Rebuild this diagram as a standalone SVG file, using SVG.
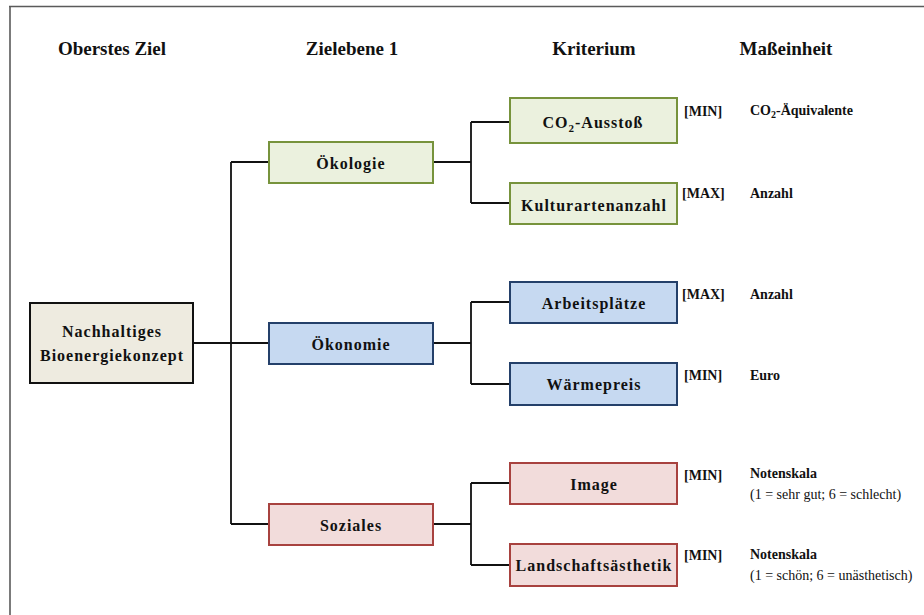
<svg xmlns="http://www.w3.org/2000/svg" width="924" height="615" viewBox="0 0 924 615">
<style>
text{font-family:"Liberation Serif","Times New Roman",serif;fill:#111;}
.h{font-size:19px;font-weight:bold;text-anchor:middle;}
.b{font-size:16px;font-weight:bold;text-anchor:middle;letter-spacing:1px;}
.l{font-size:14px;font-weight:bold;}
.s{font-size:14px;}
.root{fill:#EEEBE0;stroke:#111;stroke-width:2;}
.g{fill:#EBF1DE;stroke:#77933C;stroke-width:2;}
.bl{fill:#C6D9F1;stroke:#24406A;stroke-width:2;}
.r{fill:#F2DCDB;stroke:#A8423F;stroke-width:2;}
.c{fill:none;stroke:#111;stroke-width:1.8;}
</style>
<rect width="924" height="615" fill="#fff"/>
<path d="M9 6.5H924M10 6V615" fill="none" stroke="#5a5a5a" stroke-width="1.6"/>
<g id="headers">
<text class="h" x="112" y="55">Oberstes Ziel</text>
<text class="h" x="352" y="55">Zielebene 1</text>
<text class="h" x="594" y="55">Kriterium</text>
<text class="h" x="786" y="55">Maßeinheit</text>
</g>
<g id="connectors">
<path class="c" d="M193 343H269M231 162V524M231 162H269M231 524H269"/>
<path class="c" d="M433 162H471M471 122V203M471 122H510M471 203H510"/>
<path class="c" d="M433 343H471M471 302V384M471 302H510M471 384H510"/>
<path class="c" d="M433 524H471M471 483V565M471 483H510M471 565H510"/>
</g>
<g id="root"><rect class="root" x="30" y="303" width="163" height="80"/>
<text class="b" x="112" y="337">Nachhaltiges</text>
<text class="b" x="112" y="361">Bioenergiekonzept</text></g>
<g id="oekologie"><rect class="g" x="269" y="142" width="164" height="41"/><text class="b" x="351" y="169">Ökologie</text></g>
<g id="oekonomie"><rect class="bl" x="269" y="323" width="164" height="41"/><text class="b" x="351" y="350">Ökonomie</text></g>
<g id="soziales"><rect class="r" x="269" y="504" width="164" height="41"/><text class="b" x="351" y="531">Soziales</text></g>
<g id="co2"><rect class="g" x="510" y="98" width="167" height="45"/><text class="b" x="593" y="128">CO<tspan font-size="11" dy="4">2</tspan><tspan dy="-4">-Ausstoß</tspan></text></g>
<g id="kultur"><rect class="g" x="510" y="183" width="167" height="41"/><text class="b" x="594" y="211">Kulturartenanzahl</text></g>
<g id="arbeit"><rect class="bl" x="510" y="282" width="167" height="41"/><text class="b" x="594" y="309">Arbeitsplätze</text></g>
<g id="waerme"><rect class="bl" x="510" y="363" width="167" height="42"/><text class="b" x="594" y="390">Wärmepreis</text></g>
<g id="image"><rect class="r" x="510" y="463" width="167" height="41"/><text class="b" x="594" y="490">Image</text></g>
<g id="landschaft"><rect class="r" x="510" y="544" width="167" height="42"/><text class="b" x="594" y="571">Landschaftsästhetik</text></g>
<g id="labels">
<text class="l" x="684" y="116">[MIN]</text>
<text class="l" x="750" y="115">CO<tspan font-size="10" dy="3">2</tspan><tspan dy="-3">-Äquivalente</tspan></text>
<text class="l" x="682" y="198">[MAX]</text>
<text class="l" x="750" y="198">Anzahl</text>
<text class="l" x="682" y="299">[MAX]</text>
<text class="l" x="750" y="299">Anzahl</text>
<text class="l" x="684" y="380">[MIN]</text>
<text class="l" x="750" y="380">Euro</text>
<text class="l" x="684" y="480">[MIN]</text>
<text class="l" x="750" y="478">Notenskala</text>
<text class="s" x="750" y="499">(1 = sehr gut; 6 = schlecht)</text>
<text class="l" x="684" y="560">[MIN]</text>
<text class="l" x="750" y="559">Notenskala</text>
<text class="s" x="750" y="580">(1 = schön; 6 = unästhetisch)</text>
</g>
</svg>
